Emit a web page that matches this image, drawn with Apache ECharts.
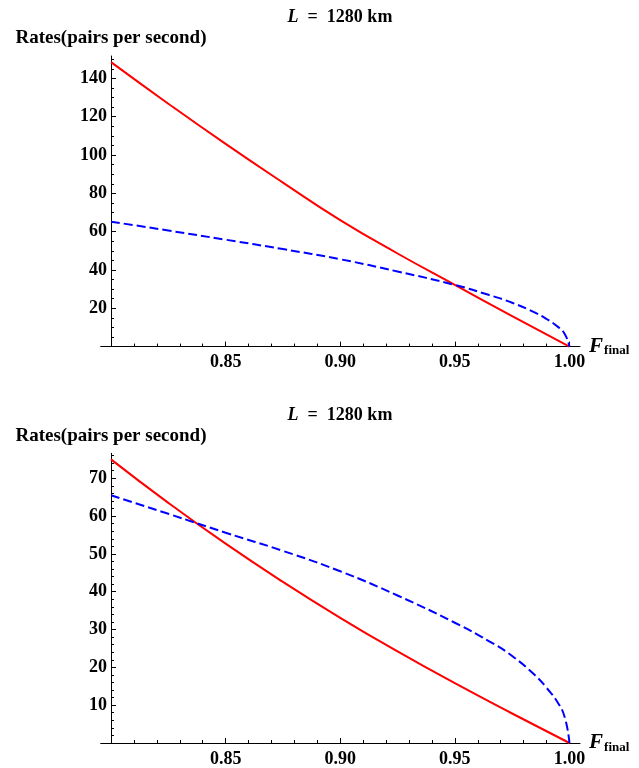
<!DOCTYPE html>
<html>
<head>
<meta charset="utf-8">
<script src="https://cdn.jsdelivr.net/npm/echarts@6/dist/echarts.min.js"></script>
<style>
html, body { margin: 0; padding: 0; background: #fff; }
#chart { width: 639px; height: 768px; }
</style>
</head>
<body>
<div id="chart"></div>
<script>
// values (F_final on x)
const redF = [0.80, 0.825, 0.85, 0.875, 0.90, 0.925, 0.95, 0.975, 1.00];
const blueF = [0.80, 0.825, 0.85, 0.875, 0.90, 0.925, 0.95, 0.965, 0.975, 0.985, 0.99, 0.995, 0.998, 1.00];

const redTop = [148.5, 126.8, 105.8, 85.6, 66.0, 48.6, 32.2, 15.9, 0];
const blueTop = [65.2, 60.6, 55.8, 50.9, 45.6, 39.2, 32.2, 26.9, 22.9, 17.7, 14.4, 10.3, 6.5, 0];

const redBottom = [75.0, 63.5, 52.7, 42.6, 33.1, 24.2, 15.8, 7.8, 0];
const blueBottom = [65.5, 60.6, 55.6, 50.8, 45.4, 39.0, 31.8, 26.9, 23.0, 17.9, 14.6, 10.6, 6.7, 0];

// ticks
const xMajorTicks = [0.80, 0.85, 0.90, 0.95, 1.00];
const xTickLabels = [0.85, 0.90, 0.95, 1.00];
const xMinorTicks = [0.81, 0.82, 0.83, 0.84, 0.86, 0.87, 0.88, 0.89, 0.91, 0.92, 0.93, 0.94, 0.96, 0.97, 0.98, 0.99];

const yTopMajor = [0, 20, 40, 60, 80, 100, 120, 140];
const yTopLabels = [20, 40, 60, 80, 100, 120, 140];
const yTopMinor = [5, 10, 15, 25, 30, 35, 45, 50, 55, 65, 70, 75, 85, 90, 95, 105, 110, 115, 125, 130, 135, 145, 150];

const yBottomMajor = [0, 10, 20, 30, 40, 50, 60, 70];
const yBottomLabels = [10, 20, 30, 40, 50, 60, 70];
const yBottomMinor = [2, 4, 6, 8, 12, 14, 16, 18, 22, 24, 26, 28, 32, 34, 36, 38, 42, 44, 46, 48, 52, 54, 56, 58, 62, 64, 66, 68, 72, 74, 76];

const FONT = '"Liberation Serif", "DejaVu Serif", serif';
const xMin = 0.7955, xMax = 1.0046;

function xAxes(g) {
    return [{
        type: 'value', gridIndex: g, min: xMin, max: xMax, position: 'bottom',
        axisLine: { show: true, onZero: false, lineStyle: { color: '#000', width: 1 } },
        axisTick: { show: true, inside: true, length: 5, customValues: xMajorTicks, lineStyle: { color: '#000' } },
        axisLabel: {
            show: true, customValues: xTickLabels, formatter: v => v.toFixed(2), margin: 7,
            color: '#000', fontFamily: FONT, fontWeight: 'bold', fontSize: 18
        },
        splitLine: { show: false },
        name: '{f|F}{s|final}', nameLocation: 'end', nameGap: 7,
        nameTextStyle: {
            color: '#000',
            rich: {
                f: { fontFamily: FONT, fontStyle: 'italic', fontWeight: 'bold', fontSize: 21, color: '#000' },
                s: { fontFamily: FONT, fontWeight: 'bold', fontSize: 13, color: '#000', verticalAlign: 'top', padding: [9, 0, 0, 1] }
            }
        }
    }, {
        type: 'value', gridIndex: g, min: xMin, max: xMax, position: 'bottom',
        axisLine: { show: false, onZero: false },
        axisTick: { show: true, inside: true, length: 3, customValues: xMinorTicks, lineStyle: { color: '#000' } },
        axisLabel: { show: false },
        splitLine: { show: false }
    }];
}

function yAxes(g, max, major, labels, minor) {
    return [{
        type: 'value', gridIndex: g, min: 0, max: max, position: 'left', offset: -10.3,
        axisLine: { show: true, onZero: false, lineStyle: { color: '#000', width: 1 } },
        axisTick: { show: true, inside: true, length: 5, customValues: major, lineStyle: { color: '#000' } },
        axisLabel: {
            show: true, customValues: labels, margin: 4,
            color: '#000', fontFamily: FONT, fontWeight: 'bold', fontSize: 18
        },
        splitLine: { show: false },
        name: 'Rates(pairs per second)', nameLocation: 'end', nameGap: 8,
        nameTextStyle: { color: '#000', fontFamily: FONT, fontWeight: 'bold', fontSize: 19, align: 'center' }
    }, {
        type: 'value', gridIndex: g, min: 0, max: max, position: 'left', offset: -10.3,
        axisLine: { show: false, onZero: false },
        axisTick: { show: true, inside: true, length: 3, customValues: minor, lineStyle: { color: '#000' } },
        axisLabel: { show: false },
        splitLine: { show: false }
    }];
}

function pairs(xs, ys) {
    return xs.map((x, i) => [x, ys[i]]);
}

function lineSeries(xi, data, color, dashed) {
    return {
        type: 'line', xAxisIndex: xi, yAxisIndex: xi, data: data,
        showSymbol: false, smooth: 0.5, clip: false,
        lineStyle: { color: color, width: 2, type: dashed ? [9, 4] : 'solid' }
    };
}

const titleText = '{i|L}  =  1280 km';
const titleStyle = {
    color: '#000', fontFamily: FONT, fontWeight: 'bold', fontSize: 18,
    rich: { i: { fontFamily: FONT, fontStyle: 'italic', fontWeight: 'bold', fontSize: 18, color: '#000' } }
};

const option = {
    animation: false,
    backgroundColor: '#fff',
    title: [
        { text: titleText, left: 340, top: 8, textAlign: 'center', textStyle: titleStyle, padding: 0 },
        { text: titleText, left: 340, top: 406, textAlign: 'center', textStyle: titleStyle, padding: 0 }
    ],
    grid: [
        { left: 100.7, right: 59, top: 56, bottom: 421.4, containLabel: false },
        { left: 100.7, right: 59, top: 453.3, bottom: 24.5, containLabel: false }
    ],
    xAxis: [...xAxes(0), ...xAxes(1)],
    yAxis: [
        ...yAxes(0, 151.7, yTopMajor, yTopLabels, yTopMinor),
        ...yAxes(1, 76.6, yBottomMajor, yBottomLabels, yBottomMinor)
    ],
    series: [
        lineSeries(0, pairs(redF, redTop), '#ff0000', false),
        lineSeries(0, pairs(blueF, blueTop), '#0000ff', true),
        lineSeries(2, pairs(redF, redBottom), '#ff0000', false),
        lineSeries(2, pairs(blueF, blueBottom), '#0000ff', true)
    ]
};

const myChart = echarts.init(document.getElementById('chart'));
myChart.setOption(option);
</script>
</body>
</html>
